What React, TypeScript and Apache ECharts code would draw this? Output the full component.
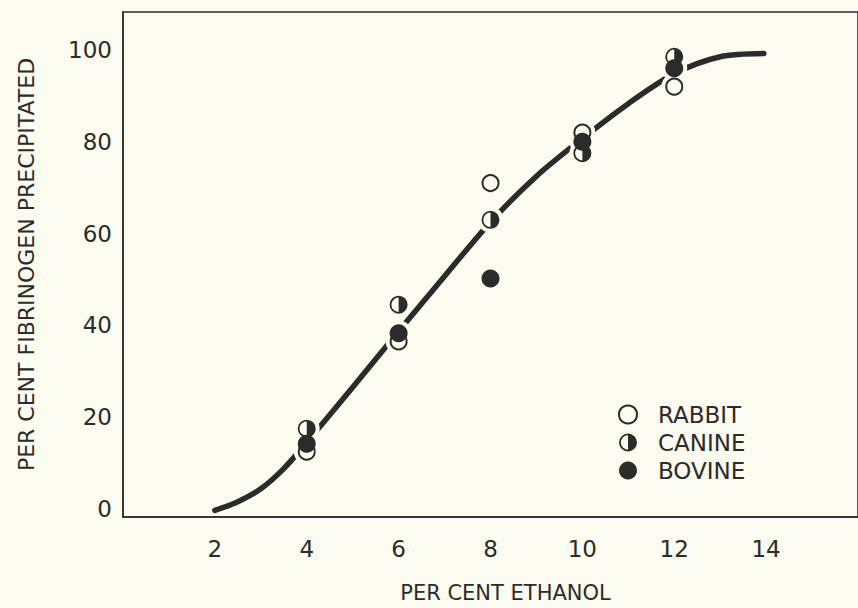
import React, { useEffect, useRef } from "react";
import * as echarts from "echarts";

// Axis tick labels
const xTickLabels = [2, 4, 6, 8, 10, 12, 14];
const yTickLabels = [0, 20, 40, 60, 80, 100];

// Measured points (per cent ethanol)
const ethanol = [4, 6, 8, 10, 12];
const rabbit = [12.5, 36.5, 71, 82, 92];
const canine = [17.5, 44.5, 63, 77.5, 98.5];
const bovine = [14.2, 38.3, 50.2, 80, 96];

// Fitted curve
const curveX = [2, 2.5, 3, 3.5, 4, 5, 6, 7, 8, 9, 10, 11, 12, 13, 13.95];
const curveY = [-0.3, 1.6, 4.4, 8.8, 14.5, 26.5, 38.7, 50.7, 62.5, 72.5, 80.7, 88.3, 94.8, 98.5, 99.2];

const INK = "#2b2b2b";
const BG = "#fcfbef";
const FONT = "DejaVu Sans";

// ring + right half disc (nonzero fill)
const halfCircle =
  "path://M10 0 A10 10 0 1 1 10 20 A10 10 0 1 1 10 0 Z " +
  "M10 2 A8 8 0 1 0 10 18 A8 8 0 1 0 10 2 Z " +
  "M10 2 A8 8 0 0 1 10 18 Z";

export default function App() {
  const ref = useRef<HTMLDivElement>(null);
  useEffect(() => {
    document.body.style.margin = "0";
    document.body.style.background = BG;
    if (!ref.current) return;
    const chart = echarts.init(ref.current, null, { renderer: "svg" });
    const pts = (ys: number[]) => ethanol.map((x, i) => [x, ys[i]]);
    const allPts = [...pts(rabbit), ...pts(canine), ...pts(bovine)];
    chart.setOption({
      animation: false,
      backgroundColor: BG,
      grid: {
        left: 123,
        right: -4,
        top: 12,
        bottom: 90,
        show: true,
        borderColor: INK,
        borderWidth: 1.5,
        backgroundColor: "transparent",
      },
      xAxis: {
        type: "value",
        min: 0,
        max: 16,
        interval: 2,
        splitLine: { show: false },
        axisTick: { show: false },
        axisLine: { show: true, onZero: false, lineStyle: { color: INK, width: 1.5 } },
        axisLabel: {
          customValues: xTickLabels,
          margin: 20,
          fontSize: 23,
          color: INK,
          fontFamily: FONT,
        },
        name: "PER CENT ETHANOL",
        nameLocation: "middle",
        nameGap: 65,
        nameTextStyle: {
          fontSize: 21,
          color: INK,
          fontFamily: FONT,
          padding: [0, 0, 0, 30],
        },
      },
      yAxis: {
        type: "value",
        min: -1.74,
        max: 108.26,
        splitLine: { show: false },
        axisTick: { show: false },
        axisLine: { show: true, onZero: false, lineStyle: { color: INK, width: 1.5 } },
        axisLabel: {
          customValues: yTickLabels,
          margin: 11,
          fontSize: 23,
          color: INK,
          fontFamily: FONT,
        },
        name: "PER CENT FIBRINOGEN PRECIPITATED",
        nameLocation: "middle",
        nameRotate: 90,
        nameGap: 86,
        nameTextStyle: { fontSize: 22, color: INK, fontFamily: FONT },
      },
      legend: {
        data: ["RABBIT", "CANINE", "BOVINE"],
        orient: "vertical",
        left: 613,
        top: 398,
        itemWidth: 18,
        itemHeight: 18,
        itemGap: 5,
        textStyle: {
          fontSize: 23,
          color: INK,
          fontFamily: FONT,
          padding: [0, 0, 0, 16],
        },
      },
      series: [
        {
          name: "curve",
          type: "line",
          data: curveX.map((x, i) => [x, curveY[i]]),
          smooth: 0.3,
          showSymbol: false,
          silent: true,
          lineStyle: { color: INK, width: 5.5, cap: "round" },
          z: 1,
        },
        {
          name: "halo",
          type: "scatter",
          data: allPts,
          symbol: "circle",
          symbolSize: 26,
          silent: true,
          itemStyle: { color: BG, opacity: 1 },
          z: 2,
        },
        {
          name: "RABBIT",
          type: "scatter",
          data: pts(rabbit),
          symbol: "circle",
          symbolSize: 16,
          itemStyle: { color: BG, borderColor: INK, borderWidth: 2, opacity: 1 },
          z: 3,
        },
        {
          name: "CANINE",
          type: "scatter",
          data: pts(canine),
          symbol: halfCircle,
          symbolSize: 18,
          itemStyle: { color: INK, opacity: 1 },
          z: 4,
        },
        {
          name: "BOVINE",
          type: "scatter",
          data: pts(bovine),
          symbol: "circle",
          symbolSize: 18,
          itemStyle: { color: INK, opacity: 1 },
          z: 5,
        },
      ],
    });
    return () => chart.dispose();
  }, []);
  return <div ref={ref} style={{ width: 858, height: 608, background: BG }} />;
}
